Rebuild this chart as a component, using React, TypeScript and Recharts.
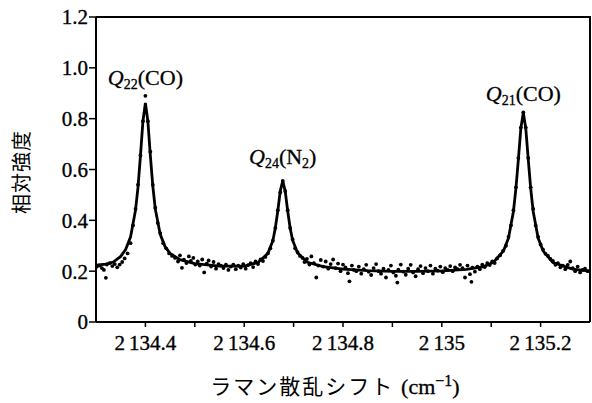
import React from 'react';
import { ComposedChart, Line, Scatter, XAxis, YAxis } from 'recharts';

// fitted curve (cm-1, relative intensity)
const FIT_CURVE: [number, number][] = [
  [2134.300, 0.224], [2134.320, 0.228], [2134.335, 0.236], [2134.350, 0.258],
  [2134.360, 0.285], [2134.370, 0.335], [2134.380, 0.44], [2134.385, 0.53],
  [2134.390, 0.655], [2134.395, 0.79], [2134.400, 0.862], [2134.405, 0.79],
  [2134.410, 0.655], [2134.415, 0.535], [2134.420, 0.445], [2134.430, 0.345],
  [2134.440, 0.296], [2134.450, 0.27], [2134.470, 0.245], [2134.500, 0.23],
  [2134.550, 0.22], [2134.600, 0.22], [2134.628, 0.234], [2134.648, 0.27],
  [2134.658, 0.32], [2134.663, 0.37], [2134.668, 0.437], [2134.673, 0.515],
  [2134.678, 0.555], [2134.683, 0.515], [2134.688, 0.437], [2134.693, 0.37],
  [2134.698, 0.322], [2134.708, 0.272], [2134.728, 0.235], [2134.760, 0.218],
  [2134.800, 0.208], [2134.850, 0.202], [2134.900, 0.199], [2134.950, 0.199],
  [2135.000, 0.201], [2135.050, 0.207], [2135.085, 0.218], [2135.105, 0.236],
  [2135.125, 0.28], [2135.135, 0.33], [2135.145, 0.435], [2135.150, 0.525],
  [2135.155, 0.64], [2135.160, 0.762], [2135.165, 0.823], [2135.170, 0.762],
  [2135.175, 0.64], [2135.180, 0.525], [2135.185, 0.435], [2135.195, 0.33],
  [2135.205, 0.28], [2135.225, 0.234], [2135.265, 0.208], [2135.300, 0.2],
];

// measured points
const MEASURED: [number, number][] = [
  [2134.302, 0.218], [2134.308, 0.222], [2134.312, 0.212], [2134.316, 0.205],
  [2134.320, 0.174], [2134.322, 0.226], [2134.328, 0.232], [2134.333, 0.22],
  [2134.338, 0.228], [2134.343, 0.215], [2134.348, 0.226], [2134.353, 0.236],
  [2134.358, 0.25], [2134.364, 0.27], [2134.370, 0.31],
  [2134.375, 0.38], [2134.380, 0.445], [2134.385, 0.54], [2134.390, 0.655],
  [2134.395, 0.79], [2134.400, 0.89], [2134.405, 0.79], [2134.410, 0.67],
  [2134.415, 0.54], [2134.420, 0.45], [2134.425, 0.39], [2134.430, 0.35],
  [2134.436, 0.31], [2134.442, 0.29], [2134.448, 0.27], [2134.454, 0.26],
  [2134.460, 0.252], [2134.466, 0.238], [2134.470, 0.262], [2134.474, 0.213],
  [2134.478, 0.245], [2134.483, 0.232], [2134.488, 0.258], [2134.492, 0.24],
  [2134.497, 0.252], [2134.501, 0.226], [2134.506, 0.238], [2134.510, 0.222],
  [2134.515, 0.246], [2134.519, 0.195], [2134.524, 0.23], [2134.528, 0.242],
  [2134.533, 0.218], [2134.538, 0.236], [2134.543, 0.21], [2134.548, 0.228],
  [2134.553, 0.222], [2134.558, 0.212], [2134.563, 0.226], [2134.568, 0.205],
  [2134.573, 0.218], [2134.578, 0.226], [2134.583, 0.208], [2134.588, 0.222],
  [2134.593, 0.214], [2134.598, 0.228], [2134.603, 0.21], [2134.608, 0.224],
  [2134.613, 0.232], [2134.618, 0.216], [2134.623, 0.238], [2134.628, 0.228],
  [2134.633, 0.246], [2134.638, 0.24], [2134.643, 0.256],
  [2134.648, 0.27], [2134.653, 0.29], [2134.658, 0.32], [2134.663, 0.37],
  [2134.668, 0.44], [2134.673, 0.51], [2134.678, 0.555], [2134.683, 0.515],
  [2134.688, 0.44], [2134.693, 0.37], [2134.698, 0.325], [2134.703, 0.29],
  [2134.708, 0.275], [2134.713, 0.26],
  [2134.718, 0.252], [2134.722, 0.236], [2134.727, 0.248], [2134.732, 0.226],
  [2134.736, 0.258], [2134.741, 0.232], [2134.746, 0.175], [2134.750, 0.222],
  [2134.755, 0.244], [2134.760, 0.218], [2134.765, 0.238], [2134.770, 0.21],
  [2134.775, 0.228], [2134.780, 0.246], [2134.785, 0.212], [2134.790, 0.23],
  [2134.795, 0.2], [2134.800, 0.226], [2134.805, 0.215], [2134.810, 0.192],
  [2134.813, 0.16], [2134.818, 0.222], [2134.822, 0.205], [2134.827, 0.2],
  [2134.832, 0.218], [2134.837, 0.19], [2134.842, 0.208], [2134.847, 0.225],
  [2134.852, 0.198], [2134.857, 0.185], [2134.862, 0.212], [2134.867, 0.228],
  [2134.872, 0.2], [2134.877, 0.19], [2134.882, 0.21], [2134.887, 0.175],
  [2134.892, 0.205], [2134.897, 0.222], [2134.902, 0.195], [2134.907, 0.182],
  [2134.910, 0.155], [2134.912, 0.206], [2134.917, 0.226], [2134.922, 0.198],
  [2134.927, 0.186], [2134.932, 0.21], [2134.937, 0.225], [2134.942, 0.195],
  [2134.947, 0.18], [2134.952, 0.208], [2134.957, 0.22], [2134.962, 0.192],
  [2134.967, 0.212], [2134.972, 0.2], [2134.977, 0.222], [2134.982, 0.19],
  [2134.987, 0.21], [2134.992, 0.202], [2134.997, 0.218], [2135.002, 0.196],
  [2135.007, 0.212], [2135.012, 0.205], [2135.017, 0.22], [2135.022, 0.2],
  [2135.027, 0.215], [2135.032, 0.208], [2135.037, 0.225], [2135.042, 0.212],
  [2135.047, 0.175], [2135.052, 0.222], [2135.057, 0.188], [2135.060, 0.158],
  [2135.062, 0.214], [2135.067, 0.198], [2135.072, 0.218], [2135.077, 0.208],
  [2135.082, 0.226], [2135.087, 0.216], [2135.092, 0.232], [2135.097, 0.224],
  [2135.102, 0.238], [2135.107, 0.232], [2135.112, 0.25], [2135.118, 0.262],
  [2135.124, 0.28],
  [2135.130, 0.3], [2135.135, 0.335], [2135.140, 0.38], [2135.145, 0.44],
  [2135.150, 0.53], [2135.155, 0.645], [2135.160, 0.765], [2135.165, 0.825],
  [2135.170, 0.765], [2135.175, 0.645], [2135.180, 0.53], [2135.185, 0.445],
  [2135.190, 0.38], [2135.195, 0.335], [2135.200, 0.305], [2135.205, 0.285],
  [2135.210, 0.268], [2135.215, 0.26], [2135.220, 0.248], [2135.225, 0.24],
  [2135.230, 0.225], [2135.235, 0.232], [2135.240, 0.215], [2135.245, 0.222],
  [2135.250, 0.208], [2135.255, 0.225], [2135.260, 0.238], [2135.265, 0.212],
  [2135.270, 0.2], [2135.275, 0.218], [2135.280, 0.195], [2135.285, 0.205],
  [2135.290, 0.21], [2135.295, 0.2],
];

// peak annotations: [x, y, subscript, species, species subscript]
const PEAKS: [number, number, string, string, string][] = [
  [2134.400, 0.89, '22', 'CO', ''],
  [2134.678, 0.555, '24', 'N', '2'],
  [2135.165, 0.825, '21', 'CO', ''],
];

const X_DOMAIN = [2134.3, 2135.3];
const X_TICKS = [2134.4, 2134.5, 2134.6, 2134.7, 2134.8, 2134.9, 2135.0, 2135.1, 2135.2];
const X_LABELS: Record<string, string> = {
  '2134.4': '2\u2009134.4',
  '2134.6': '2\u2009134.6',
  '2134.8': '2\u2009134.8',
  '2135.0': '2\u2009135',
  '2135.2': '2\u2009135.2',
};
const Y_DOMAIN = [0, 1.2];
const Y_TICKS = [0, 0.2, 0.4, 0.6, 0.8, 1.0, 1.2];
const Y_LABELS = ['0', '0.2', '0.4', '0.6', '0.8', '1.0', '1.2'];

const SERIF = '"Liberation Serif", "DejaVu Serif", serif';
const JP = '"Noto Sans CJK JP", sans-serif';

// chart box
const W = 592;
const H = 403;
const M = { top: 17, right: 2, bottom: 0, left: 0 };
const Y_AXIS_W = 96;
const X_AXIS_H = 81;
const PLOT_W = W - M.left - M.right - Y_AXIS_W;
const PLOT_H = H - M.top - M.bottom - X_AXIS_H;

const fitData = FIT_CURVE.map(([x, y]) => ({ x, y }));
const dotData = MEASURED.map(([x, y]) => ({ x, y }));
const peakData = PEAKS.map(([x, y, sub, sp, spSub]) => ({ x, y, sub, sp, spSub }));
// top-right corner of the axes box
const cornerData = [{ x: X_DOMAIN[1], y: Y_DOMAIN[1] }];

const tickStyle = { fill: '#000', stroke: '#000', strokeWidth: 0.35, fontFamily: SERIF, fontSize: 21 };

const PeakLabel = (props: any) => {
  const { cx, cy, payload } = props;
  const lift = payload.spSub ? 17 : 11;
  return (
    <text
      x={cx}
      y={cy - lift}
      textAnchor="middle"
      fontFamily={SERIF}
      fontSize={22}
      fill="#000"
      stroke="#000"
      strokeWidth={0.3}
    >
      <tspan fontStyle="italic">Q</tspan>
      <tspan fontSize={14} dy={4}>{payload.sub}</tspan>
      <tspan dy={-4}>({payload.sp}</tspan>
      {payload.spSub ? <tspan fontSize={14} dy={4}>{payload.spSub}</tspan> : null}
      <tspan dy={payload.spSub ? -4 : 0}>)</tspan>
    </text>
  );
};

// draws the top and right edges from the corner point
const Frame = (props: any) => {
  const { cx, cy } = props;
  return (
    <path
      d={`M${cx - PLOT_W},${cy}L${cx},${cy}L${cx},${cy + PLOT_H}`}
      fill="none"
      stroke="#000"
      strokeWidth={2}
    />
  );
};

const Dot = (props: any) => <circle cx={props.cx} cy={props.cy} r={1.9} fill="#000" />;

export default function App() {
  return (
    <div style={{ position: 'absolute', left: 0, top: 0, width: W, height: H, background: '#fff' }}>
      <ComposedChart width={W} height={H} margin={M}>
        <XAxis
          dataKey="x"
          type="number"
          domain={X_DOMAIN}
          ticks={X_TICKS}
          height={X_AXIS_H}
          stroke="#000"
          axisLine={{ stroke: '#000', strokeWidth: 2 }}
          tickLine={{ stroke: '#000', strokeWidth: 1.5 }}
          tickSize={5}
          tickMargin={8}
          tick={tickStyle}
          tickFormatter={(v: number) => X_LABELS[v.toFixed(1)] ?? ''}
          label={{
            content: () => (
              <text x={335} y={394} textAnchor="middle" fill="#000" fontSize={21}>
                <tspan fontFamily={JP} letterSpacing={2}>ラマン散乱シフト </tspan>
                <tspan fontFamily={SERIF} fontSize={22} stroke="#000" strokeWidth={0.3}>(cm</tspan>
                <tspan fontFamily={SERIF} fontSize={16} dy={-8} stroke="#000" strokeWidth={0.3}>−1</tspan>
                <tspan fontFamily={SERIF} fontSize={22} dy={8} stroke="#000" strokeWidth={0.3}>)</tspan>
              </text>
            ),
          }}
        />
        <YAxis
          type="number"
          domain={Y_DOMAIN}
          ticks={Y_TICKS}
          width={Y_AXIS_W}
          stroke="#000"
          axisLine={{ stroke: '#000', strokeWidth: 2 }}
          tickLine={{ stroke: '#000', strokeWidth: 1.5 }}
          tickSize={7}
          tickMargin={1}
          tick={tickStyle}
          tickFormatter={(v: number, i: number) => Y_LABELS[i] ?? String(v)}
          label={{
            content: () => (
              <text
                x={20}
                y={172}
                transform="rotate(-90, 20, 172)"
                textAnchor="middle"
                dominantBaseline="central"
                fontFamily={JP}
                fontSize={20}
                letterSpacing={1}
                fill="#000"
              >
                相対強度
              </text>
            ),
          }}
        />
        <Scatter data={cornerData} dataKey="y" shape={Frame} isAnimationActive={false} />
        <Line
          data={fitData}
          type="linear"
          dataKey="y"
          stroke="#000"
          strokeWidth={2.8}
          dot={false}
          isAnimationActive={false}
        />
        <Scatter data={dotData} dataKey="y" shape={Dot} isAnimationActive={false} />
        <Scatter data={peakData} dataKey="y" shape={PeakLabel} isAnimationActive={false} />
      </ComposedChart>
      {/* fallback for the top and right edges of the axes box */}
      <div
        style={{
          position: 'absolute',
          left: M.left + Y_AXIS_W,
          top: M.top - 1,
          width: PLOT_W + 1,
          height: PLOT_H + 1,
          boxSizing: 'border-box',
          borderTop: '2px solid #000',
          borderRight: '2px solid #000',
          pointerEvents: 'none',
        }}
      />
    </div>
  );
}
